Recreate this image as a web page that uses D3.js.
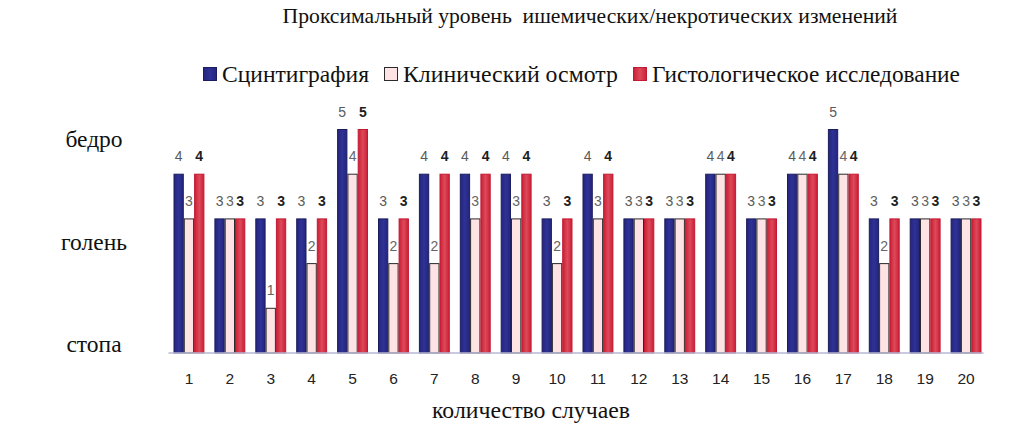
<!DOCTYPE html>
<html>
<head>
<meta charset="utf-8">
<script src="https://cdn.jsdelivr.net/npm/d3@7"></script>
<style>
  body { margin: 0; background: #fff; }
</style>
</head>
<body>
<svg id="chart" width="1034" height="429"></svg>
<script>
const cases = ["1", "2", "3", "4", "5", "6", "7", "8", "9", "10",
  "11", "12", "13", "14", "15", "16", "17", "18", "19", "20"];
const seriesNames = ["Сцинтиграфия", "Клинический осмотр", "Гистологическое исследование"];
const scintigraphy = [4, 3, 3, 3, 5, 3, 4, 4, 4, 3, 4, 3, 3, 4, 3, 4, 5, 3, 3, 3];
const clinical     = [3, 3, 1, 2, 4, 2, 2, 3, 3, 2, 3, 3, 3, 4, 3, 4, 4, 2, 3, 3];
const histology    = [4, 3, 3, 3, 5, 3, 4, 4, 4, 3, 4, 3, 3, 4, 3, 4, 4, 3, 3, 3];
const levels = ["стопа", "голень", "бедро"];

const title = "Проксимальный уровень  ишемических/некротических изменений";
const xTitle = "количество случаев";

const serifFont = "Liberation Serif";
const sansFont = "Liberation Sans";

const seriesValues = [scintigraphy, clinical, histology];
const styles = [
  { fill: "url(#gBlue)", stroke: "#1c1d5e", label: "#5a5a5a", weight: "normal" },
  { fill: "#fde3e3", stroke: "#2b2b2b", label: "#666", weight: "normal" },
  { fill: "url(#gRed)", stroke: "#c21a33", label: "#1e1e1e", weight: "bold" }
];

const svg = d3.select("#chart");

// gradients
const defs = svg.append("defs");
function grad(id, edge, mid) {
  const g = defs.append("linearGradient").attr("id", id)
    .attr("x1", "0").attr("x2", "1").attr("y1", "0").attr("y2", "0");
  g.append("stop").attr("offset", "0").attr("stop-color", edge);
  g.append("stop").attr("offset", "0.5").attr("stop-color", mid);
  g.append("stop").attr("offset", "1").attr("stop-color", edge);
}
grad("gBlue", "#24257c", "#2f3296");
grad("gRed", "#cc1e36", "#dc4a59");

// ── scales ──
const x = d3.scaleBand().domain(cases).range([168.5, 986.5]);
const x1 = d3.scaleBand().domain(seriesNames).range([5, x.bandwidth() - 5]);
const y = d3.scaleLinear().domain([0, 5]).range([353, 129.5]);
const yLevel = d3.scalePoint().domain(levels).range([352, 147]);

// serif text scaled so it spans the width seen in the picture
function serifText(sel, width) {
  sel.attr("font-family", serifFont).attr("fill", "#111").attr("font-size", 20);
  sel.each(function () {
    const w = this.getComputedTextLength();
    d3.select(this).attr("font-size", (20 * width / w).toFixed(2));
  });
  return sel;
}

// title
serifText(svg.append("text")
  .attr("x", 590).attr("y", 23)
  .attr("text-anchor", "middle")
  .style("white-space", "pre")
  .text(title), 615);

// legend
const legendWidths = [147, 215, 308];
const legend = svg.append("g").attr("transform", "translate(203,0)");
let lx = 0;
seriesNames.forEach((name, i) => {
  const item = legend.append("g").attr("transform", `translate(${lx},0)`);
  item.append("rect")
    .attr("x", 0.5).attr("y", 67.5).attr("width", 13).attr("height", 13)
    .attr("fill", styles[i].fill).attr("stroke", styles[i].stroke);
  serifText(item.append("text").attr("x", 19).attr("y", 82).text(name), legendWidths[i]);
  lx += 19 + legendWidths[i] + 15;
});

// level labels (y axis)
svg.append("g").selectAll("text")
  .data(levels)
  .join("text")
  .attr("x", 94)
  .attr("y", d => yLevel(d))
  .attr("text-anchor", "middle")
  .attr("font-family", serifFont)
  .attr("font-size", 23.5)
  .attr("fill", "#111")
  .text(d => d);

// bars
const groups = svg.append("g").selectAll("g")
  .data(cases)
  .join("g")
  .attr("transform", d => `translate(${x(d)},0)`);

groups.selectAll("rect")
  .data((c, ci) => seriesNames.map((s, si) => ({ s, si, v: seriesValues[si][ci] })))
  .join("rect")
  .attr("x", d => x1(d.s) + 0.5)
  .attr("width", x1.bandwidth() - 1)
  .attr("y", d => y(d.v))
  .attr("height", d => y(0) - y(d.v))
  .attr("fill", d => styles[d.si].fill)
  .attr("stroke", d => styles[d.si].stroke)
  .attr("stroke-width", 1);

// x axis
const xAxis = svg.append("g")
  .attr("transform", `translate(0,${y(0)})`)
  .call(d3.axisBottom(x).tickSize(0).tickPadding(0));
xAxis.select(".domain").attr("stroke", "#b7b7d4").attr("stroke-width", 1.5)
  .attr("d", `M${x.range()[0]},0H${x.range()[1] - 3}`);
xAxis.selectAll(".tick text")
  .attr("y", 31).attr("dy", null)
  .attr("font-family", sansFont).attr("font-size", 15.5).attr("fill", "#222");

// value labels
svg.append("g").selectAll("g")
  .data(cases)
  .join("g")
  .attr("transform", d => `translate(${x(d)},0)`)
  .selectAll("text")
  .data((c, ci) => seriesNames.map((s, si) => ({ s, si, v: seriesValues[si][ci] })))
  .join("text")
  .attr("font-family", sansFont)
  .attr("font-size", 14)
  .attr("x", d => x1(d.s) + x1.bandwidth() / 2)
  .attr("y", d => y(d.v) - 13)
  .attr("text-anchor", "middle")
  .attr("fill", d => styles[d.si].label)
  .attr("font-weight", d => styles[d.si].weight)
  .text(d => d.v);

// x title
serifText(svg.append("text")
  .attr("x", 531).attr("y", 418)
  .attr("text-anchor", "middle")
  .text(xTitle), 198);
</script>
</body>
</html>
